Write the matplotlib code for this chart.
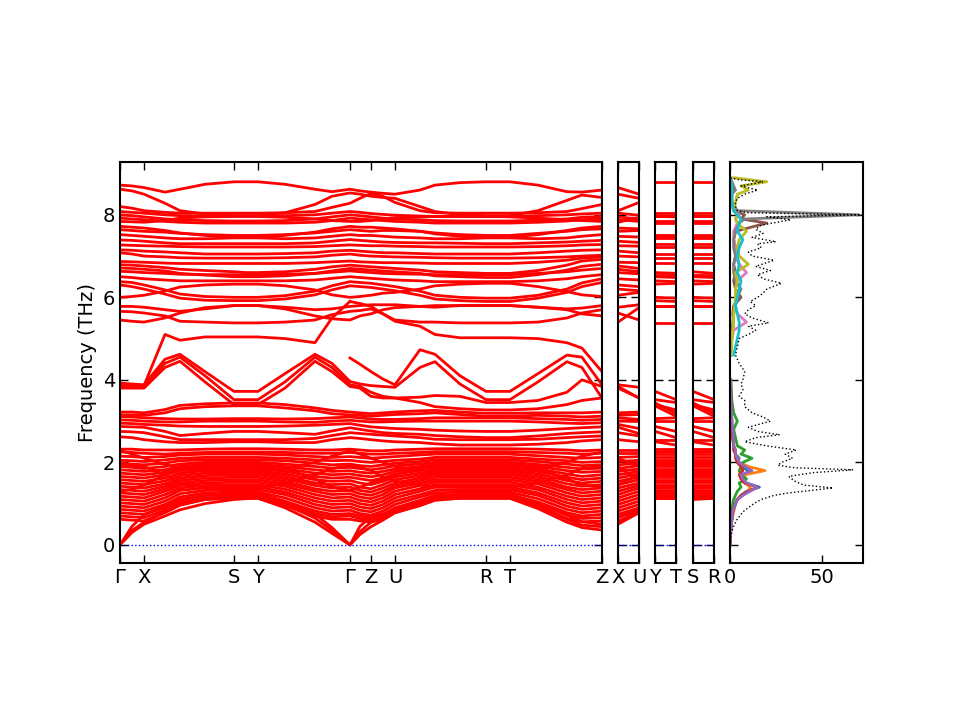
import numpy as np
import matplotlib
matplotlib.use('Agg')
import matplotlib.pyplot as plt

nan = np.nan

# path Γ-X-S-Y-Γ-Z-U-R-T-Z, distance of each sampled k-point along the path
k_nodes = [0, 12, 24, 45, 60, 85, 114, 126, 138, 165, 195, 212, 230,
           240, 251, 263, 275, 300, 315, 340, 366, 378, 390, 418, 447, 462, 482]
main_ticks = [0, 24, 114, 138, 230, 251, 275, 366, 390, 482]
main_labels = ['Γ', 'X', 'S', 'Y', 'Γ', 'Z', 'U', 'R', 'T', 'Z']

# side panels: (index of start point, index of end point) in k_nodes, labels
side_paths = [(2, 16, 'X', 'U'), (8, 22, 'Y', 'T'), (6, 20, 'S', 'R')]

# band frequencies (THz) read at each k-node: left half (Γ..Γ) + right half (Z side)
top_bands = [
    [8.72, 8.70, 8.66, 8.55, 8.62, 8.74, 8.80, 8.80, 8.80, 8.74, 8.62, 8.56, 8.62,
     8.58, 8.55, 8.52, 8.50, 8.60, 8.72, 8.78, 8.80, 8.80, 8.80, 8.72, 8.56, 8.55, 8.60],
    [8.62, 8.58, 8.50, 8.28, 8.10, 8.02, 7.98, 7.98, 7.98, 8.05, 8.25, 8.45, 8.53,
     8.50, 8.45, 8.42, 8.40, 8.20, 8.08, 8.00, 7.98, 7.98, 7.98, 8.10, 8.35, 8.48, 8.42],
    [8.20, 8.16, 8.10, 8.06, 8.04, 8.04, 8.04, 8.04, 8.04, 8.05, 8.08, 8.18, 8.28,
     8.40, 8.52, 8.45, 8.30, 8.10, 8.05, 8.04, 8.04, 8.04, 8.04, 8.05, 8.08, 8.15, 8.25],
    [8.08, 8.06, 8.04, 8.00, 7.98, 7.97, 7.97, 7.97, 7.97, 7.98, 8.00, 8.04, 8.08,
     8.06, 8.03, 8.01, 7.99, 7.97, 7.96, 7.96, 7.96, 7.96, 7.96, 7.98, 8.00, 8.02, 8.04],
    [8.00, 7.98, 7.95, 7.90, 7.88, 7.86, 7.85, 7.85, 7.85, 7.86, 7.90, 7.95, 8.00,
     7.98, 7.95, 7.92, 7.90, 7.88, 7.86, 7.85, 7.85, 7.85, 7.85, 7.87, 7.90, 7.94, 7.96],
    [7.92, 7.90, 7.88, 7.84, 7.82, 7.80, 7.80, 7.80, 7.80, 7.80, 7.82, 7.86, 7.92,
     7.90, 7.88, 7.86, 7.84, 7.82, 7.80, 7.80, 7.80, 7.80, 7.80, 7.82, 7.85, 7.88, 7.90],
    [7.84, 7.83, 7.82, 7.86, 7.92, 7.95, 7.96, 7.96, 7.96, 7.94, 7.90, 7.86, 7.84,
     7.84, 7.86, 7.90, 7.93, 7.95, 7.96, 7.96, 7.96, 7.96, 7.95, 7.92, 7.88, 7.86, 7.84],
]

mid_bands = [
    [7.72, 7.70, 7.68, 7.62, 7.56, 7.50, 7.47, 7.47, 7.47, 7.50, 7.58, 7.66, 7.72,
     7.70, 7.70, 7.68, 7.66, 7.60, 7.54, 7.48, 7.46, 7.46, 7.46, 7.52, 7.62, 7.68, 7.72],
    [7.64, 7.62, 7.60, 7.58, 7.55, 7.52, 7.50, 7.50, 7.50, 7.52, 7.56, 7.60, 7.64,
     7.62, 7.60, 7.62, 7.62, 7.60, 7.56, 7.52, 7.50, 7.50, 7.50, 7.55, 7.60, 7.64, 7.66],
    [7.52, 7.50, 7.48, 7.44, 7.42, 7.42, 7.44, 7.44, 7.44, 7.42, 7.44, 7.48, 7.52,
     7.50, 7.50, 7.48, 7.46, 7.44, 7.42, 7.42, 7.44, 7.44, 7.44, 7.42, 7.44, 7.48, 7.52],
    [7.39, 7.38, 7.36, 7.32, 7.30, 7.30, 7.30, 7.30, 7.30, 7.30, 7.32, 7.36, 7.40,
     7.38, 7.36, 7.34, 7.33, 7.32, 7.32, 7.31, 7.30, 7.30, 7.30, 7.32, 7.34, 7.36, 7.38],
    [7.27, 7.26, 7.25, 7.24, 7.23, 7.22, 7.22, 7.22, 7.22, 7.22, 7.23, 7.25, 7.27,
     7.26, 7.25, 7.25, 7.24, 7.23, 7.22, 7.22, 7.22, 7.22, 7.22, 7.23, 7.25, 7.27, 7.28],
    [7.15, 7.14, 7.12, 7.10, 7.08, 7.05, 7.05, 7.05, 7.05, 7.06, 7.08, 7.12, 7.14,
     7.12, 7.10, 7.08, 7.08, 7.06, 7.05, 7.05, 7.05, 7.05, 7.05, 7.08, 7.12, 7.14, 7.15],
    [7.08, 7.05, 7.00, 6.98, 6.96, 6.95, 6.95, 6.95, 6.95, 6.96, 6.98, 7.02, 7.05,
     7.02, 7.00, 6.99, 6.98, 6.97, 6.96, 6.95, 6.95, 6.95, 6.95, 6.96, 6.98, 7.00, 7.02],
    [6.87, 6.86, 6.85, 6.83, 6.82, 6.82, 6.82, 6.82, 6.82, 6.82, 6.84, 6.86, 6.88,
     6.86, 6.85, 6.84, 6.84, 6.83, 6.82, 6.82, 6.82, 6.82, 6.82, 6.85, 6.90, 6.95, 6.98],
    [6.79, 6.78, 6.76, 6.72, 6.68, 6.65, 6.62, 6.60, 6.60, 6.62, 6.68, 6.74, 6.78,
     6.76, 6.74, 6.72, 6.70, 6.66, 6.62, 6.60, 6.58, 6.58, 6.58, 6.65, 6.78, 6.88, 6.92],
    [6.71, 6.70, 6.68, 6.64, 6.58, 6.54, 6.50, 6.50, 6.50, 6.52, 6.58, 6.64, 6.70,
     6.68, 6.66, 6.64, 6.62, 6.58, 6.52, 6.50, 6.48, 6.48, 6.48, 6.55, 6.66, 6.75, 6.80],
    [6.63, 6.62, 6.60, 6.58, 6.56, 6.55, 6.55, 6.55, 6.55, 6.56, 6.58, 6.61, 6.64,
     6.62, 6.60, 6.58, 6.57, 6.56, 6.55, 6.55, 6.55, 6.55, 6.55, 6.58, 6.62, 6.66, 6.70],
    [6.50, 6.48, 6.45, 6.42, 6.40, 6.40, 6.40, 6.40, 6.40, 6.40, 6.42, 6.46, 6.50,
     6.48, 6.46, 6.44, 6.42, 6.40, 6.38, 6.38, 6.38, 6.38, 6.38, 6.40, 6.45, 6.50, 6.55],
    [6.38, 6.36, 6.30, 6.18, 6.08, 6.02, 6.00, 6.00, 6.00, 6.04, 6.15, 6.28, 6.38,
     6.36, 6.34, 6.30, 6.26, 6.15, 6.05, 6.00, 5.98, 5.98, 5.98, 6.05, 6.20, 6.35, 6.45],
    [6.30, 6.26, 6.20, 6.08, 5.98, 5.93, 5.92, 5.92, 5.92, 5.96, 6.06, 6.18, 6.28,
     6.26, 6.24, 6.20, 6.16, 6.05, 5.96, 5.92, 5.90, 5.90, 5.90, 5.98, 6.12, 6.26, 6.36],
    [6.00, 6.02, 6.05, 6.15, 6.25, 6.30, 6.32, 6.32, 6.32, 6.28, 6.18, 6.06, 6.00,
     6.02, 6.05, 6.10, 6.12, 6.20, 6.28, 6.32, 6.34, 6.34, 6.34, 6.26, 6.14, 6.06, 6.02],
    [5.78, 5.78, 5.76, 5.70, 5.66, 5.72, 5.80, 5.80, 5.80, 5.76, 5.70, 5.72, 5.78,
     5.80, 5.82, 5.82, 5.82, 5.78, 5.76, 5.80, 5.80, 5.80, 5.80, 5.76, 5.72, 5.74, 5.80],
    [5.66, 5.65, 5.62, 5.55, 5.42, 5.40, 5.38, 5.38, 5.38, 5.40, 5.45, 5.58, 5.66,
     5.68, 5.72, 5.60, 5.45, 5.40, 5.40, 5.38, 5.38, 5.38, 5.38, 5.40, 5.50, 5.62, 5.70],
    [5.45, 5.42, 5.40, 5.50, 5.62, 5.75, 5.80, 5.80, 5.80, 5.72, 5.55, 5.48, 5.45,
     5.55, 5.60, 5.70, 5.75, 5.78, 5.80, 5.80, 5.80, 5.80, 5.80, 5.76, 5.70, 5.60, 5.55],
]

# bands around 3.5-5.1 THz; nan where a branch is not drawn on that side of Γ
bump_bands = [
    [3.90, 3.88, 3.86, 5.10, 4.96, 5.04, 5.04, 5.04, 5.04, 5.00, 4.90, 5.50, 5.90,
     nan, nan, nan, nan, nan, nan, nan, nan, nan, nan, nan, nan, nan, nan],
    [nan, nan, nan, nan, nan, nan, nan, nan, nan, nan, nan, nan, 5.90,
     5.85, 5.78, 5.60, 5.42, 5.30, 5.10, 5.02, 5.02, 5.02, 5.02, 5.00, 4.90, 4.77, 4.20],
    [nan, nan, nan, nan, nan, nan, nan, nan, nan, nan, nan, nan, 4.53,
     4.38, 4.20, 4.02, 3.88, 4.73, 4.62, 4.10, 3.72, 3.72, 3.72, 4.15, 4.60, 4.55, 3.88],
    [3.92, 3.90, 3.88, 4.50, 4.62, 4.20, 3.72, 3.72, 3.72, 4.15, 4.62, 4.40, 3.96,
     3.90, 3.86, 3.84, 3.82, 4.30, 4.44, 3.90, 3.52, 3.52, 3.52, 3.95, 4.44, 4.30, 3.56],
    [3.84, 3.84, 3.84, 4.40, 4.55, 4.10, 3.52, 3.52, 3.52, 3.95, 4.55, 4.30, 3.88,
     3.84, 3.70, 3.60, 3.56, 3.58, 3.62, 3.60, 3.45, 3.45, 3.45, 3.50, 3.70, 4.00, 3.84],
    [3.80, 3.80, 3.80, 4.30, 4.45, 3.95, 3.40, 3.40, 3.40, 3.80, 4.45, 4.20, 3.84,
     3.80, 3.60, 3.56, 3.56, 3.45, 3.35, 3.30, 3.27, 3.27, 3.27, 3.30, 3.40, 3.50, 3.56],
]

low_bands = [
    [3.22, 3.22, 3.20, 3.28, 3.38, 3.42, 3.44, 3.44, 3.44, 3.40, 3.32, 3.26, 3.22,
     3.20, 3.18, 3.20, 3.22, 3.25, 3.26, 3.22, 3.19, 3.19, 3.19, 3.20, 3.20, 3.20, 3.22],
    [3.15, 3.15, 3.14, 3.20, 3.30, 3.35, 3.37, 3.37, 3.37, 3.32, 3.25, 3.18, 3.15,
     3.14, 3.12, 3.14, 3.16, 3.18, 3.20, 3.16, 3.12, 3.12, 3.12, 3.14, 3.12, 3.10, 3.12],
    [3.11, 3.10, 3.08, 3.06, 3.05, 3.05, 3.06, 3.06, 3.06, 3.05, 3.06, 3.08, 3.10,
     3.08, 3.05, 3.04, 3.04, 3.06, 3.08, 3.08, 3.08, 3.08, 3.08, 3.06, 3.04, 3.02, 3.04],
    [3.03, 3.02, 3.00, 2.98, 2.98, 3.00, 3.00, 3.00, 3.00, 2.98, 2.97, 3.00, 3.02,
     3.00, 2.98, 2.98, 2.99, 3.00, 3.00, 3.00, 3.00, 3.00, 3.00, 2.98, 2.95, 2.94, 2.96],
    [2.95, 2.94, 2.92, 2.90, 2.88, 2.87, 2.87, 2.87, 2.87, 2.88, 2.90, 2.92, 2.94,
     2.90, 2.86, 2.84, 2.82, 2.80, 2.78, 2.76, 2.75, 2.75, 2.75, 2.78, 2.82, 2.84, 2.86],
    [2.87, 2.86, 2.85, 2.75, 2.65, 2.70, 2.75, 2.75, 2.75, 2.72, 2.68, 2.76, 2.84,
     2.80, 2.76, 2.72, 2.70, 2.68, 2.65, 2.62, 2.60, 2.60, 2.60, 2.64, 2.70, 2.72, 2.74],
    [2.75, 2.74, 2.72, 2.62, 2.55, 2.55, 2.55, 2.55, 2.55, 2.55, 2.58, 2.65, 2.72,
     2.70, 2.68, 2.66, 2.64, 2.60, 2.56, 2.55, 2.55, 2.55, 2.55, 2.56, 2.60, 2.62, 2.64],
    [2.62, 2.60, 2.55, 2.50, 2.48, 2.48, 2.50, 2.50, 2.50, 2.48, 2.48, 2.55, 2.60,
     2.58, 2.55, 2.52, 2.50, 2.48, 2.45, 2.42, 2.42, 2.42, 2.42, 2.44, 2.48, 2.52, 2.55],
]

dense_bands = [
    [2.32, 2.32, 2.30, 2.30, 2.30, 2.32, 2.33, 2.33, 2.33, 2.32, 2.30, 2.30, 2.32,
     2.30, 2.28, 2.28, 2.30, 2.32, 2.33, 2.33, 2.33, 2.33, 2.33, 2.32, 2.30, 2.28, 2.30],
    [2.30, 2.20, 2.10, 1.95, 1.85, 1.80, 1.78, 1.78, 1.78, 1.85, 2.00, 2.15, 2.28,
     2.20, 2.10, 2.00, 1.90, 1.82, 1.78, 1.78, 1.78, 1.78, 1.78, 1.85, 2.00, 2.15, 2.25],
    [2.25, 2.24, 2.22, 2.20, 2.22, 2.24, 2.25, 2.25, 2.25, 2.24, 2.22, 2.22, 2.24,
     2.22, 2.20, 2.20, 2.22, 2.24, 2.26, 2.26, 2.26, 2.26, 2.26, 2.24, 2.22, 2.20, 2.22],
    [2.15, 2.14, 2.12, 2.14, 2.18, 2.20, 2.20, 2.20, 2.20, 2.18, 2.14, 2.12, 2.14,
     2.12, 2.10, 2.12, 2.14, 2.18, 2.20, 2.20, 2.20, 2.20, 2.20, 2.16, 2.12, 2.10, 2.12],
    [2.05, 2.04, 2.02, 2.06, 2.10, 2.12, 2.12, 2.12, 2.12, 2.10, 2.06, 2.04, 2.05,
     2.02, 2.00, 2.02, 2.05, 2.08, 2.12, 2.12, 2.12, 2.12, 2.12, 2.08, 2.04, 2.00, 2.02],
    [1.98, 1.96, 1.94, 1.98, 2.04, 2.06, 2.06, 2.06, 2.06, 2.04, 1.98, 1.94, 1.96,
     1.92, 1.90, 1.94, 1.98, 2.02, 2.06, 2.06, 2.06, 2.06, 2.06, 2.02, 1.96, 1.92, 1.94],
    [1.95, 1.92, 1.90, 1.70, 1.50, 1.40, 1.38, 1.38, 1.38, 1.50, 1.70, 1.85, 1.92,
     1.88, 1.80, 1.65, 1.55, 1.45, 1.40, 1.40, 1.40, 1.40, 1.40, 1.50, 1.70, 1.85, 1.90],
    [1.90, 1.88, 1.85, 1.90, 1.96, 2.00, 2.00, 2.00, 2.00, 1.96, 1.90, 1.86, 1.88,
     1.85, 1.82, 1.86, 1.92, 1.96, 2.00, 2.00, 2.00, 2.00, 2.00, 1.95, 1.88, 1.84, 1.86],
    [1.82, 1.80, 1.78, 1.82, 1.90, 1.94, 1.95, 1.95, 1.95, 1.90, 1.82, 1.78, 1.80,
     1.76, 1.74, 1.78, 1.84, 1.90, 1.95, 1.95, 1.95, 1.95, 1.95, 1.90, 1.80, 1.76, 1.78],
    [1.74, 1.72, 1.70, 1.76, 1.85, 1.90, 1.90, 1.90, 1.90, 1.84, 1.74, 1.70, 1.72,
     1.68, 1.65, 1.70, 1.78, 1.86, 1.90, 1.90, 1.90, 1.90, 1.90, 1.84, 1.72, 1.66, 1.70],
    [1.66, 1.64, 1.62, 1.70, 1.80, 1.85, 1.85, 1.85, 1.85, 1.78, 1.66, 1.62, 1.64,
     1.60, 1.56, 1.62, 1.72, 1.80, 1.85, 1.85, 1.85, 1.85, 1.85, 1.78, 1.64, 1.58, 1.62],
    [1.58, 1.56, 1.54, 1.62, 1.74, 1.80, 1.80, 1.80, 1.80, 1.72, 1.58, 1.54, 1.56,
     1.50, 1.46, 1.54, 1.65, 1.74, 1.80, 1.80, 1.80, 1.80, 1.80, 1.72, 1.56, 1.50, 1.54],
    [1.50, 1.48, 1.46, 1.55, 1.68, 1.74, 1.75, 1.75, 1.75, 1.66, 1.50, 1.46, 1.48,
     1.40, 1.36, 1.46, 1.58, 1.68, 1.75, 1.75, 1.75, 1.75, 1.75, 1.66, 1.48, 1.42, 1.46],
    [1.42, 1.40, 1.38, 1.48, 1.62, 1.68, 1.70, 1.70, 1.70, 1.60, 1.44, 1.38, 1.40,
     1.32, 1.28, 1.38, 1.50, 1.62, 1.70, 1.70, 1.70, 1.70, 1.70, 1.60, 1.40, 1.34, 1.38],
    [1.30, 1.35, 1.45, 1.70, 1.90, 1.95, 1.98, 1.98, 1.98, 1.85, 1.60, 1.40, 1.32,
     1.40, 1.50, 1.60, 1.70, 1.85, 1.95, 1.98, 1.98, 1.98, 1.98, 1.85, 1.60, 1.45, 1.40],
    [1.34, 1.32, 1.30, 1.42, 1.56, 1.62, 1.64, 1.64, 1.64, 1.54, 1.36, 1.30, 1.32,
     1.24, 1.20, 1.30, 1.44, 1.56, 1.64, 1.64, 1.64, 1.64, 1.64, 1.54, 1.34, 1.26, 1.30],
    [1.26, 1.24, 1.22, 1.36, 1.50, 1.56, 1.58, 1.58, 1.58, 1.48, 1.30, 1.22, 1.24,
     1.16, 1.12, 1.22, 1.38, 1.50, 1.58, 1.58, 1.58, 1.58, 1.58, 1.48, 1.26, 1.18, 1.22],
    [1.18, 1.16, 1.14, 1.30, 1.44, 1.50, 1.52, 1.52, 1.52, 1.42, 1.22, 1.14, 1.16,
     1.08, 1.04, 1.14, 1.30, 1.44, 1.52, 1.52, 1.52, 1.52, 1.52, 1.40, 1.18, 1.10, 1.14],
    [1.10, 1.08, 1.06, 1.22, 1.38, 1.44, 1.46, 1.46, 1.46, 1.35, 1.14, 1.06, 1.08,
     1.00, 0.96, 1.06, 1.22, 1.36, 1.46, 1.46, 1.46, 1.46, 1.46, 1.34, 1.10, 1.02, 1.06],
    [1.02, 1.00, 0.98, 1.14, 1.32, 1.38, 1.40, 1.40, 1.40, 1.28, 1.06, 0.98, 1.00,
     0.92, 0.88, 0.98, 1.14, 1.30, 1.40, 1.40, 1.40, 1.40, 1.40, 1.26, 1.02, 0.94, 0.98],
    [0.94, 0.92, 0.90, 1.06, 1.24, 1.32, 1.34, 1.34, 1.34, 1.22, 0.98, 0.90, 0.92,
     0.84, 0.80, 0.90, 1.06, 1.22, 1.32, 1.34, 1.34, 1.34, 1.34, 1.20, 0.94, 0.86, 0.90],
    [0.86, 0.84, 0.82, 0.98, 1.16, 1.26, 1.28, 1.28, 1.28, 1.14, 0.90, 0.82, 0.84,
     0.76, 0.72, 0.82, 0.98, 1.16, 1.26, 1.28, 1.28, 1.28, 1.28, 1.12, 0.86, 0.78, 0.82],
    [0.78, 0.76, 0.74, 0.90, 1.08, 1.20, 1.22, 1.22, 1.22, 1.06, 0.82, 0.74, 0.76,
     0.70, 0.66, 0.74, 0.90, 1.08, 1.20, 1.22, 1.22, 1.22, 1.22, 1.04, 0.78, 0.70, 0.74],
    [0.70, 0.68, 0.66, 0.84, 1.02, 1.14, 1.17, 1.17, 1.17, 1.00, 0.76, 0.68, 0.70,
     0.64, 0.60, 0.68, 0.84, 1.02, 1.14, 1.16, 1.16, 1.16, 1.16, 0.98, 0.72, 0.64, 0.66],
    [0.62, 0.60, 0.58, 0.78, 0.96, 1.10, 1.13, 1.13, 1.13, 0.95, 0.70, 0.62, 0.62,
     0.58, 0.55, 0.62, 0.78, 0.96, 1.10, 1.13, 1.13, 1.13, 1.13, 0.92, 0.64, 0.56, 0.58],
]

acoustic_bands = [
    [0.00, 0.30, 0.50, 0.70, 0.85, 1.00, 1.10, 1.12, 1.13, 0.90, 0.55, 0.28, 0.00,
     0.25, 0.44, 0.60, 0.78, 0.95, 1.08, 1.13, 1.13, 1.13, 1.13, 0.88, 0.55, 0.42, 0.36],
    [0.00, 0.35, 0.55, 0.80, 0.98, 1.10, 1.16, 1.16, 1.16, 0.98, 0.65, 0.35, 0.00,
     0.32, 0.55, 0.68, 0.82, 1.00, 1.12, 1.16, 1.16, 1.16, 1.16, 0.95, 0.62, 0.48, 0.44],
    [0.00, 0.45, 0.73, 0.95, 1.10, 1.20, 1.25, 1.25, 1.25, 1.05, 0.75, 0.42, 0.00,
     0.45, 0.68, 0.75, 0.85, 1.05, 1.18, 1.22, 1.22, 1.22, 1.22, 1.02, 0.72, 0.56, 0.50],
]

all_bands = top_bands + mid_bands + bump_bands + low_bands + dense_bands + acoustic_bands

# phonon DOS: total (states/THz) on its own frequency grid
dos_freq = [0.0, 0.2, 0.4, 0.6, 0.8, 1.0, 1.1, 1.2, 1.26, 1.38, 1.45, 1.55, 1.66, 1.75,
            1.82, 1.87, 1.93, 2.0, 2.1, 2.2, 2.3, 2.4, 2.5, 2.6, 2.67, 2.75, 2.85, 3.0,
            3.1, 3.2, 3.35, 3.5, 3.6, 3.76, 3.9, 4.0, 4.2, 4.4, 4.6, 4.8, 5.0, 5.1, 5.2,
            5.3, 5.38, 5.5, 5.6, 5.7, 5.8, 5.9, 6.0, 6.1, 6.2, 6.34, 6.45, 6.55, 6.65,
            6.75, 6.9, 7.0, 7.1, 7.2, 7.3, 7.35, 7.45, 7.55, 7.65, 7.75, 7.88, 7.95, 8.0,
            8.05, 8.1, 8.2, 8.3, 8.4, 8.5, 8.6, 8.7, 8.8, 8.85, 8.9]
dos_total = [0, 0.5, 1.5, 3.6, 7, 13, 17, 24, 32, 56, 40, 35, 32, 45, 67, 35, 26, 28, 34,
             30, 36, 20, 8, 14, 27, 15, 10, 22, 18, 12, 8, 8, 5, 7, 6, 7, 8, 5, 3, 4, 5,
             10, 14, 10, 21, 12, 8, 10, 14, 11, 15, 18, 20, 28, 18, 15, 22, 14, 24, 12,
             10, 17, 15, 25, 12, 18, 14, 17, 33, 20, 72, 10, 4, 3, 3, 4, 8, 15, 6, 18, 5, 0]

# partial DOS, low-frequency species (blue, orange, green, red, purple)
pdos_freq_lo = [0.0, 0.2, 0.4, 0.6, 0.8, 1.0, 1.1, 1.2, 1.3, 1.4, 1.5, 1.6, 1.7, 1.8,
                1.9, 2.0, 2.1, 2.2, 2.3, 2.4, 2.6, 2.8, 3.0, 3.2, 3.5, 4.0]
pdos_lo = [
    [0, 0.2, 0.5, 1, 1.5, 3, 4, 6, 9, 16, 9, 7, 8, 10, 6, 4, 5, 3, 3, 2, 1.5, 1, 1, 0.8, 0.5, 0.3],
    [0, 0.2, 0.5, 1, 2, 3, 4, 7, 10, 11, 8, 6, 8, 19, 10, 5, 4, 3, 2, 2, 1.5, 1, 1, 0.8, 0.5, 0.3],
    [0, 0.1, 0.3, 0.6, 1, 1.5, 2, 3, 4, 6, 5, 9, 6, 5, 6, 7, 12, 6, 8, 4, 3, 2, 4, 2, 1, 0.5],
    [0, 0.2, 0.5, 1, 1.5, 3, 4, 6, 10, 15, 8, 6, 5, 7, 6, 4, 3, 3, 2, 2, 1.5, 1, 1, 0.8, 0.5, 0.3],
    [0, 0.2, 0.5, 1, 1.5, 3, 4, 7, 11, 15, 9, 7, 6, 12, 8, 5, 4, 3, 3, 2, 2, 1.5, 1, 0.8, 0.5, 0.3],
]
# partial DOS, high-frequency species (brown, pink, gray, olive, cyan)
pdos_freq_hi = [4.6, 4.8, 5.0, 5.2, 5.4, 5.6, 5.8, 6.0, 6.2, 6.4, 6.6, 6.8, 7.0, 7.2,
                7.4, 7.6, 7.8, 7.9, 8.0, 8.1, 8.3, 8.5, 8.6, 8.7, 8.8, 8.9]
pdos_hi = [
    [0.3, 0.5, 1, 1.5, 2, 1.5, 2, 6, 3, 2, 3, 2, 3, 3, 2, 3, 20, 6, 8, 2, 1, 1, 2, 1, 1, 0],
    [0.3, 0.5, 1, 2, 9, 4, 3, 3, 3, 4, 9, 5, 3, 3, 2, 2, 4, 3, 5, 2, 1, 1, 1, 1, 0.5, 0],
    [0.3, 0.5, 1, 1, 1.5, 2, 3, 4, 6, 3, 2, 2, 3, 2, 2, 3, 5, 8, 70, 4, 1, 1, 3, 2, 1, 0],
    [0.5, 1, 1, 1.5, 2, 2, 2.5, 3, 3, 4, 3, 10, 5, 4, 5, 9, 4, 3, 4, 2, 3, 4, 10, 6, 20, 2],
    [2, 3, 4, 5, 5, 4, 3, 4, 5, 6, 4, 5, 4, 5, 7, 4, 5, 6, 4, 2, 1, 1, 1, 1, 0.5, 0],
]
lo_colors = ['tab:blue', 'tab:orange', 'tab:green', 'tab:red', 'tab:purple']
hi_colors = ['tab:brown', 'tab:pink', 'tab:gray', 'tab:olive', 'tab:cyan']

ylim = (-0.44, 9.28)
fs = 14
band_lw = 2.0


def style(ax):
    ax.tick_params(direction='in', top=True, right=True, length=6, width=1,
                   labelsize=fs)
    for s in ax.spines.values():
        s.set_linewidth(1.5)
    ax.set_ylim(*ylim)
    ax.set_yticks([0, 2, 4, 6, 8])


fig = plt.figure(figsize=(9.6, 7.2), dpi=100)

# main band panel
ax = fig.add_axes([0.125, 0.218, 0.502, 0.557])
for b in all_bands:
    ax.plot(k_nodes, b, color='red', lw=band_lw)
ax.axhline(0, color='blue', ls=':', lw=1)
ax.set_xlim(k_nodes[0], k_nodes[-1])
ax.set_xticks(main_ticks)
ax.set_xticklabels(main_labels)
style(ax)
ax.set_ylabel('Frequency (THz)', fontsize=fs)

# the three short panels, each band joined from one end point to the other
lefts = [0.6438, 0.6823, 0.7219]
for (i0, i1, l0, l1), left in zip(side_paths, lefts):
    a = fig.add_axes([left, 0.218, 0.0219, 0.557])
    for b in all_bands:
        a.plot([0, 1], [b[i0], b[i1]], color='red', lw=band_lw)
    a.axhline(0, color='blue', ls=':', lw=1)
    a.set_xlim(0, 1)
    a.set_xticks([0, 1])
    a.set_xticklabels([l0, l1])
    style(a)
    a.tick_params(labelleft=False)

# DOS panel
ad = fig.add_axes([0.7604, 0.218, 0.1385, 0.557])
for vals, c in zip(pdos_lo, lo_colors):
    ad.plot(vals, pdos_freq_lo, color=c, lw=2)
for vals, c in zip(pdos_hi, hi_colors):
    ad.plot(vals, pdos_freq_hi, color=c, lw=2)
ad.plot(dos_total, dos_freq, color='black', ls=':', lw=1)
ad.set_xlim(0, 72.3)
ad.set_xticks([0, 50])
style(ad)
ad.tick_params(labelleft=False)

fig.savefig('out.png', dpi=100)
